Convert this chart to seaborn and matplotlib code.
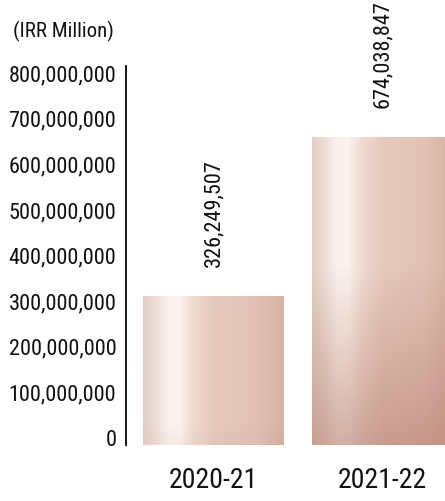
import numpy as np
import matplotlib
matplotlib.use("Agg")
import matplotlib.pyplot as plt
import matplotlib.transforms as mtransforms
import seaborn as sns

years = ["2020-21", "2021-22"]
values = [326249507, 674038847]
y_ticks = [0, 100000000, 200000000, 300000000, 400000000,
           500000000, 600000000, 700000000, 800000000]

sns.set_style("white")
plt.rcParams['font.family'] = ['Roboto Condensed', 'Liberation Sans', 'DejaVu Sans']

fig = plt.figure(figsize=(4.45, 5.02), dpi=100)
ax = fig.add_axes([126 / 445, 56 / 502, 319 / 445, 379 / 502])

sns.barplot(x=years, y=values, width=0.834, color="#e6cdc3", ax=ax)

# soft copper sheen on each bar, darker further down from the top
hx = [0.0, 0.08, 0.18, 0.26, 0.36, 0.5, 0.8, 1.0]
hr = [226, 236, 250, 250, 238, 230, 226, 214]
hg = [208, 220, 243, 242, 218, 202, 194, 178]
hb = [198, 212, 238, 237, 208, 190, 181, 164]
dark = np.array([176, 118, 102]) / 255
for p in ax.patches:
    x0, w, h = p.get_x(), p.get_width(), p.get_height()
    cols = np.linspace(0, 1, 120)
    base = np.stack([np.interp(cols, hx, hr), np.interp(cols, hx, hg),
                     np.interp(cols, hx, hb)], axis=-1) / 255
    rows = np.linspace(0, h, 200)
    t = np.clip((rows - 280e6) / 400e6, 0, 1)[:, None, None] * 0.55
    img = base[None, :, :] * (1 - t) + dark[None, None, :] * t
    ax.imshow(img, extent=[x0, x0 + w, 0, h], origin="upper", aspect="auto",
              interpolation="bilinear", zorder=2)
    p.set_facecolor("none")
    p.set_edgecolor("none")

ax.set_xlim(-0.518, 1.37)
ax.set_ylim(0, 831e6)
ax.set_yticks(y_ticks)
ax.set_yticklabels([f"{v:,}" for v in y_ticks])
ax.tick_params(axis="y", length=0, pad=7, labelsize=16, labelcolor="#111111")
ax.tick_params(axis="x", length=0, pad=15, labelsize=20, labelcolor="#111111")
for lab in ax.get_yticklabels():
    lab.set_transform(lab.get_transform() +
                      mtransforms.ScaledTranslation(0, 0.08, fig.dpi_scale_trans))

for s in ["top", "right", "bottom"]:
    ax.spines[s].set_visible(False)
ax.spines["left"].set_color("black")
ax.spines["left"].set_linewidth(1.3)

ax.bar_label(ax.containers[0], labels=[f"{v:,}" for v in values],
             rotation=90, padding=22, fontsize=16, color="#111111")

fig.text(13 / 445, 1 - 31 / 502, "(IRR Million)", fontsize=15, va="center", ha="left",
         color="#111111")

plt.savefig("out.png", dpi=100)
